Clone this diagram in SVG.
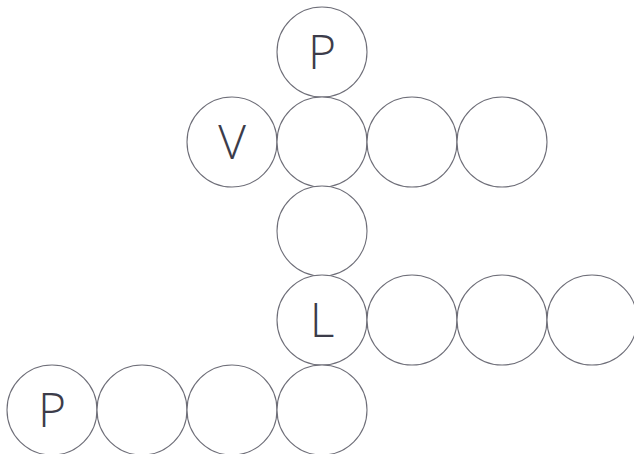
<svg xmlns="http://www.w3.org/2000/svg" width="634" height="454" viewBox="0 0 634 454">
<style>
.c{fill:#fff;stroke:#6e6e78;stroke-width:1.1}
.t{font-family:"Open Sans","Liberation Sans",sans-serif;font-weight:300;font-size:48px;fill:#3c3c4a;text-anchor:middle}
</style>
<rect width="634" height="454" fill="#fff"/>
<g id="connectors"/>
<g id="n1"><circle class="c" cx="322" cy="52" r="45"/><text class="t" x="322" y="69">P</text></g>
<g id="n2"><circle class="c" cx="232" cy="142" r="45"/><text class="t" x="232" y="159">V</text></g>
<g id="n3"><circle class="c" cx="322" cy="142" r="45"/></g>
<g id="n4"><circle class="c" cx="412" cy="142" r="45"/></g>
<g id="n5"><circle class="c" cx="502" cy="142" r="45"/></g>
<g id="n6"><circle class="c" cx="322" cy="231" r="45"/></g>
<g id="n7"><circle class="c" cx="322" cy="320" r="45"/><text class="t" x="322" y="337">L</text></g>
<g id="n8"><circle class="c" cx="412" cy="320" r="45"/></g>
<g id="n9"><circle class="c" cx="502" cy="320" r="45"/></g>
<g id="n10"><circle class="c" cx="592" cy="320" r="45"/></g>
<g id="n11"><circle class="c" cx="52" cy="410" r="45"/><text class="t" x="52" y="427">P</text></g>
<g id="n12"><circle class="c" cx="142" cy="410" r="45"/></g>
<g id="n13"><circle class="c" cx="232" cy="410" r="45"/></g>
<g id="n14"><circle class="c" cx="322" cy="410" r="45"/></g>
</svg>
